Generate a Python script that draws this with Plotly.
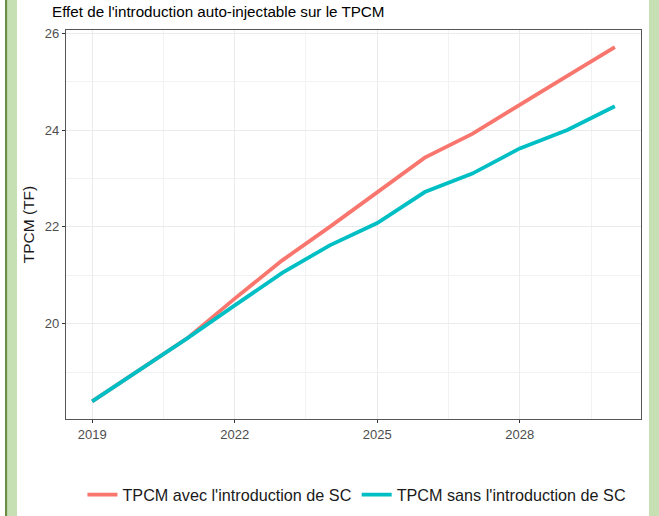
import plotly.graph_objects as go

years = [2019, 2020, 2021, 2022, 2023, 2024, 2025, 2026, 2027, 2028, 2029, 2030]
tpcm_avec = [18.4, 19.05, 19.7, 20.52, 21.31, 22.0, 22.72, 23.43, 23.92, 24.53, 25.12, 25.71]
tpcm_sans = [18.4, 19.05, 19.7, 20.38, 21.05, 21.62, 22.08, 22.72, 23.1, 23.62, 24.0, 24.49]
series_names = ["TPCM avec l'introduction de SC", "TPCM sans l'introduction de SC"]
x_ticks = [2019, 2022, 2025, 2028]
y_ticks = [20, 22, 24, 26]

FONT = "Liberation Sans, Arial, sans-serif"

fig = go.Figure()
fig.add_trace(go.Scatter(x=years, y=tpcm_avec, mode="lines", name=series_names[0],
                         line=dict(color="#F8766D", width=3.8)))
fig.add_trace(go.Scatter(x=years, y=tpcm_sans, mode="lines", name=series_names[1],
                         line=dict(color="#00BFC4", width=3.8)))

L, R, T, B = 66, 641, 30, 419
W, H = 659, 516
pw = R - L

def px(xp):
    return (xp - L) / pw

shapes = [
    dict(type="rect", xref="paper", yref="paper", x0=px(5), x1=px(7.5), y0=-0.3, y1=1.2,
         fillcolor="#6A8E45", line=dict(width=0), layer="below"),
    dict(type="rect", xref="paper", yref="paper", x0=px(7.5), x1=px(17), y0=-0.3, y1=1.2,
         fillcolor="#C6E0B4", line=dict(width=0), layer="below"),
    dict(type="rect", xref="paper", yref="paper", x0=px(649), x1=px(660), y0=-0.3, y1=1.2,
         fillcolor="#C6E0B4", line=dict(width=0), layer="below"),
]

fig.update_layout(
    width=W, height=H,
    margin=dict(l=L, r=W - R, t=T, b=H - B, pad=0, autoexpand=False),
    paper_bgcolor="white", plot_bgcolor="white",
    font=dict(family=FONT, color="#000000"),
    title=dict(text="Effet de l'introduction auto-injectable sur le TPCM",
               x=52 / W, xanchor="left", xref="container",
               y=1 - 12 / H, yanchor="middle", yref="container",
               font=dict(size=15.2, color="#000000", family=FONT)),
    showlegend=True,
    legend=dict(orientation="h", x=0.506, xanchor="center", y=(B - 495) / (B - T), yanchor="middle",
                font=dict(size=16.2, color="#1A1A1A", family=FONT),
                itemwidth=30, tracegroupgap=0, bgcolor="rgba(0,0,0,0)"),
    shapes=shapes,
    xaxis=dict(range=[2018.45, 2030.55], tickvals=x_ticks, ticktext=[str(v) for v in x_ticks],
               automargin=False,
               showgrid=True, gridcolor="#EBEBEB", gridwidth=1,
               minor=dict(tickvals=[2020.5, 2023.5, 2026.5, 2029.5], showgrid=True,
                          gridcolor="#F2F2F2", gridwidth=1, ticks=""),
               showline=True, linecolor="#555555", linewidth=1.3, mirror=True,
               ticks="outside", ticklen=3, tickcolor="#333333", tickwidth=1,
               tickfont=dict(size=13, color="#4D4D4D", family=FONT),
               zeroline=False),
    yaxis=dict(range=[18.035, 26.065], tickvals=y_ticks, ticktext=[str(v) for v in y_ticks],
               automargin=False,
               showgrid=True, gridcolor="#EBEBEB", gridwidth=1,
               minor=dict(tickvals=[19, 21, 23, 25], showgrid=True,
                          gridcolor="#F2F2F2", gridwidth=1, ticks=""),
               showline=True, linecolor="#555555", linewidth=1.3, mirror=True,
               ticks="outside", ticklen=3, tickcolor="#333333", tickwidth=1,
               tickfont=dict(size=13, color="#4D4D4D", family=FONT),
               title=dict(text="TPCM (TF)", standoff=6,
                          font=dict(size=15.5, color="#1A1A1A", family=FONT)),
               zeroline=False),
)

fig.write_html("out.html", config={"displayModeBar": False},
               post_script="document.body.style.margin='0';document.body.style.overflow='hidden';")
